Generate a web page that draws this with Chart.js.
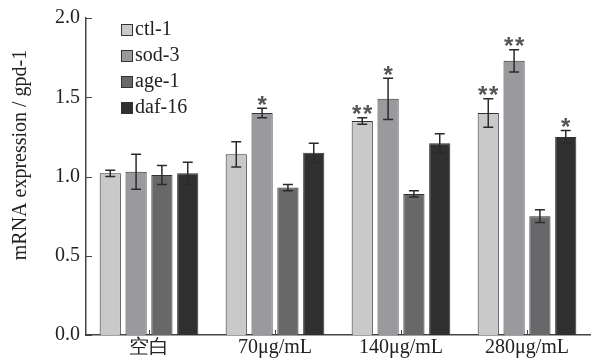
<!DOCTYPE html>
<html>
<head>
<meta charset="utf-8">
<script src="https://cdn.jsdelivr.net/npm/chart.js@4.4.0/dist/chart.umd.min.js"></script>
<style>
  html, body { margin: 0; padding: 0; background: #fff; }
  #wrap { width: 591px; height: 361px; position: relative; }
</style>
</head>
<body>
<div id="wrap"><canvas id="exprChart"></canvas></div>
<script>
// Data
const categories = ['空白', '70μg/mL', '140μg/mL', '280μg/mL'];
const seriesNames = ['ctl-1', 'sod-3', 'age-1', 'daf-16'];

const ctl1 = [1.02, 1.14, 1.35, 1.40];
const sod3 = [1.03, 1.40, 1.49, 1.73];
const age1 = [1.01, 0.93, 0.89, 0.75];
const daf16 = [1.02, 1.15, 1.21, 1.25];

const ctl1Err = [0.02, 0.08, 0.02, 0.09];
const sod3Err = [0.11, 0.03, 0.13, 0.07];
const age1Err = [0.06, 0.02, 0.02, 0.04];
const daf16Err = [0.07, 0.06, 0.06, 0.04];

// significance marks
const ctl1Sig = ['', '', '**', '**'];
const sod3Sig = ['', '*', '*', '**'];
const age1Sig = ['', '', '', ''];
const daf16Sig = ['', '', '', '*'];

const yTicks = [0, 0.5, 1.0, 1.5, 2.0];
const yTitle = 'mRNA expression / gpd-1';

const fills = ['#c9c9c9', '#9a9a9e', '#68686a', '#303030'];
const serif = "'Liberation Serif', 'Times New Roman', serif";
const axisColor = '#444';

const values = [ctl1, sod3, age1, daf16];
const errors = [ctl1Err, sod3Err, age1Err, daf16Err];
const sigs = [ctl1Sig, sod3Sig, age1Sig, daf16Sig];

// Draws error bars, stars, inner ticks, legend and y title
const decorPlugin = {
    id: 'decor',
    afterDatasetsDraw(chart) {
        const ctx = chart.ctx;
        const yScale = chart.scales.y;
        const xScale = chart.scales.x;
        const area = chart.chartArea;
        ctx.save();

        // error bars
        ctx.strokeStyle = '#2a2a2a';
        ctx.lineWidth = 1.5;
        chart.data.datasets.forEach((ds, i) => {
            const meta = chart.getDatasetMeta(i);
            meta.data.forEach((bar, j) => {
                const v = ds.data[j];
                const e = errors[i][j];
                const yTop = yScale.getPixelForValue(v + e);
                const yBot = yScale.getPixelForValue(v - e);
                const x = bar.x;
                ctx.beginPath();
                ctx.moveTo(x, yTop); ctx.lineTo(x, yBot);
                ctx.moveTo(x - 5, yTop); ctx.lineTo(x + 5, yTop);
                ctx.moveTo(x - 5, yBot); ctx.lineTo(x + 5, yBot);
                ctx.stroke();

                const s = sigs[i][j];
                if (s) {
                    ctx.fillStyle = '#555';
                    ctx.font = "bold 24px 'Liberation Sans', sans-serif";
                    ctx.textAlign = 'center';
                    ctx.textBaseline = 'middle';
                    const n = s.length;
                    for (let k = 0; k < n; k++) {
                        const sx = x + (k - (n - 1) / 2) * 11;
                        ctx.fillText('*', sx, yTop - 2);
                    }
                }
            });
        });

        // inward tick marks
        ctx.strokeStyle = axisColor;
        ctx.lineWidth = 1;
        yTicks.forEach(t => {
            const y = Math.round(yScale.getPixelForValue(t)) + 0.5;
            ctx.beginPath();
            ctx.moveTo(area.left, y); ctx.lineTo(area.left + 6, y);
            ctx.stroke();
        });
        categories.forEach((c, j) => {
            const x = Math.round(xScale.getPixelForValue(j)) + 0.5;
            ctx.beginPath();
            ctx.moveTo(x, area.bottom); ctx.lineTo(x, area.bottom - 5);
            ctx.stroke();
        });

        // legend
        ctx.font = '20px ' + serif;
        ctx.textAlign = 'left';
        ctx.textBaseline = 'middle';
        chart.data.datasets.forEach((ds, i) => {
            const cy = 30 + i * 26;
            ctx.fillStyle = ds.backgroundColor;
            ctx.fillRect(121, cy - 6, 12, 12);
            ctx.strokeStyle = '#333';
            ctx.lineWidth = 1;
            ctx.strokeRect(121.5, cy - 5.5, 11, 11);
            ctx.fillStyle = '#222';
            ctx.fillText(ds.label, 135, cy);
        });

        // y axis title
        ctx.translate(21, 155);
        ctx.rotate(-Math.PI / 2);
        ctx.textAlign = 'center';
        ctx.textBaseline = 'middle';
        ctx.fillStyle = '#222';
        ctx.font = '20px ' + serif;
        ctx.fillText(yTitle, 0, 0);

        ctx.restore();
    }
};

function initializeChart() {
    const ctx = document.getElementById('exprChart').getContext('2d');
    new Chart(ctx, {
        type: 'bar',
        data: {
            labels: categories,
            datasets: seriesNames.map((name, i) => ({
                label: name,
                data: values[i],
                backgroundColor: fills[i],
                borderColor: '#333',
                borderWidth: 1,
                categoryPercentage: 0.82,
                barPercentage: 0.82
            }))
        },
        options: {
            responsive: true,
            maintainAspectRatio: false,
            animation: false,
            layout: {
                padding: { left: 49, right: 1, top: 10, bottom: 0 }
            },
            plugins: {
                legend: { display: false },
                tooltip: { enabled: false }
            },
            scales: {
                x: {
                    grid: { display: false, drawTicks: false },
                    border: { display: true, color: axisColor, width: 1.5 },
                    ticks: {
                        color: '#222',
                        padding: 3,
                        font: { family: serif, size: 20, lineHeight: 1 }
                    }
                },
                y: {
                    min: 0,
                    max: 2,
                    grid: { display: false, drawTicks: false },
                    border: { display: true, color: axisColor, width: 1.5 },
                    afterBuildTicks: axis => {
                        axis.ticks = yTicks.map(v => ({ value: v }));
                    },
                    ticks: {
                        color: '#222',
                        padding: 6,
                        font: { family: serif, size: 20 },
                        callback: v => Number(v).toFixed(1)
                    }
                }
            }
        },
        plugins: [decorPlugin]
    });
}

document.addEventListener('DOMContentLoaded', initializeChart);
</script>
</body>
</html>
